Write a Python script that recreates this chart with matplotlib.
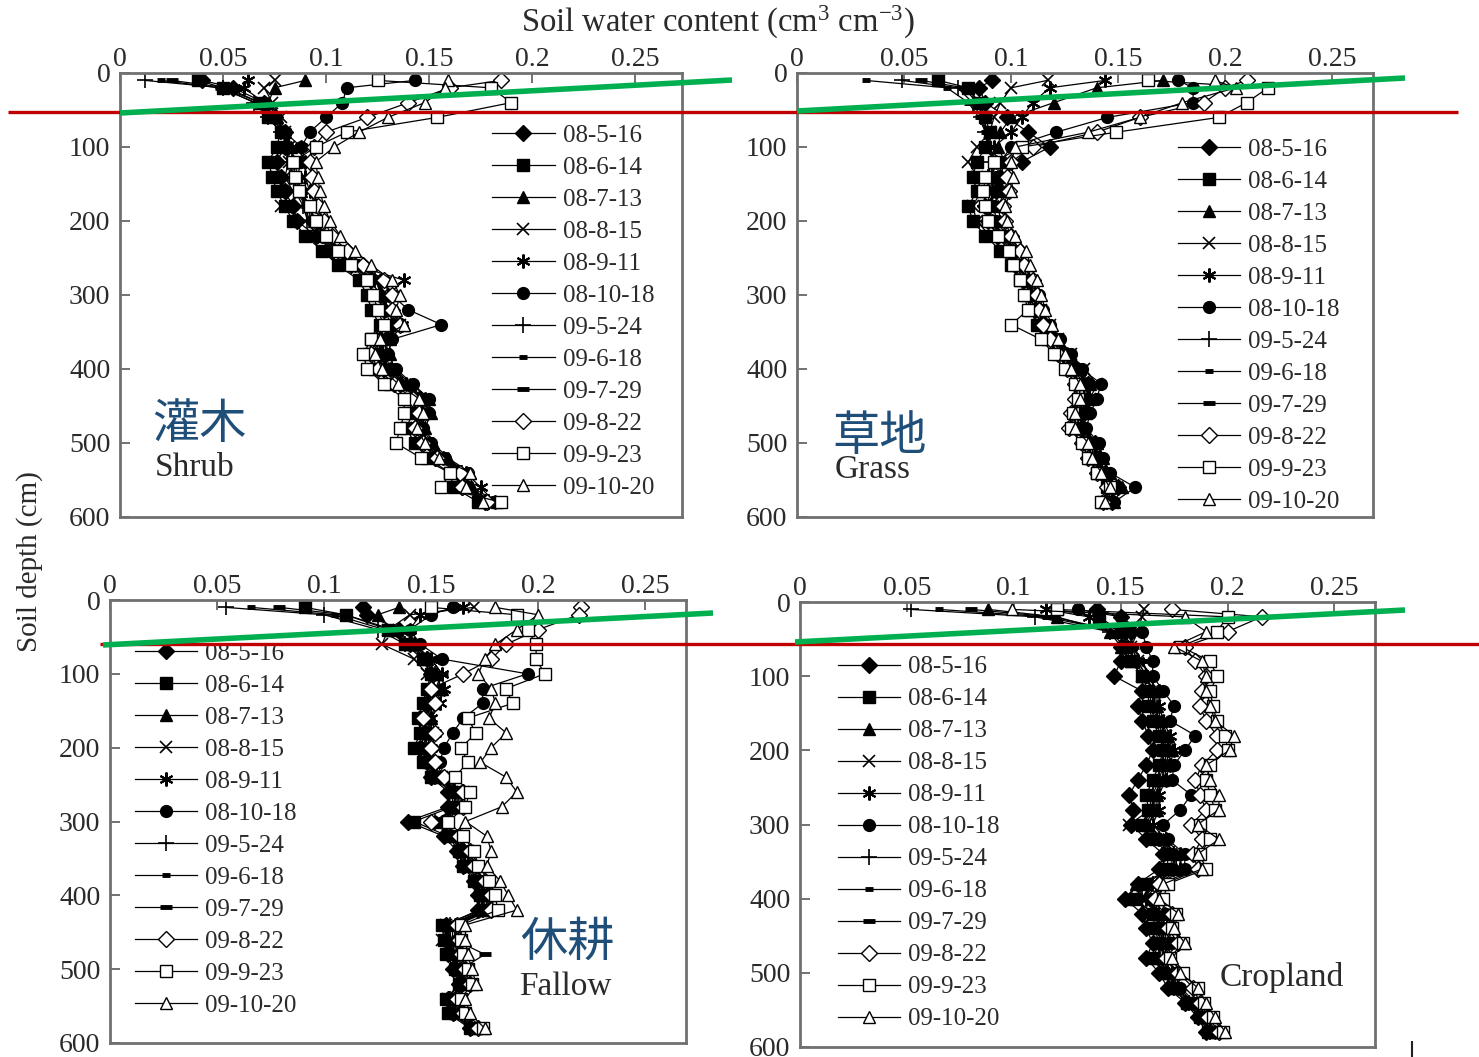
import matplotlib
matplotlib.use('Agg')
import matplotlib.pyplot as plt
from matplotlib.lines import Line2D

plt.rcParams['font.family'] = ['Liberation Serif', 'DejaVu Serif']
plt.rcParams['mathtext.fontset'] = 'custom'
plt.rcParams['mathtext.rm'] = 'Liberation Serif'
plt.rcParams['mathtext.it'] = 'Liberation Serif:italic'

W, H = 1479, 1057

# soil depth of each reading (cm)
depths = [10, 20, 40, 60, 80, 100, 120, 140, 160, 180, 200, 220, 240, 260, 280,
          300, 320, 340, 360, 380, 400, 420, 440, 460, 480, 500, 520, 540, 560, 580]
dates = ['08-5-16', '08-6-14', '08-7-13', '08-8-15', '08-9-11', '08-10-18',
         '09-5-24', '09-6-18', '09-7-29', '09-8-22', '09-9-23', '09-10-20']
xticks = [0, 0.05, 0.1, 0.15, 0.2, 0.25]
xtick_labels = ['0', '0.05', '0.1', '0.15', '0.2', '0.25']
yticks = [0, 100, 200, 300, 400, 500, 600]

# soil water content in 0.001 cm3/cm3, one row per date
shrub_swc = [
    [40, 55, 70, 75, 80, 80, 76, 78, 80, 84, 86, 95, 103, 112, 122, 126, 128, 132, 126, 126, 128, 136, 145, 146, 143, 147, 153, 164, 166, 177],
    [38, 50, 68, 72, 78, 76, 72, 74, 76, 80, 84, 90, 98, 106, 116, 120, 122, 126, 122, 121, 124, 131, 140, 142, 139, 143, 149, 160, 162, 174],
    [90, 75, 72, 76, 80, 83, 85, 86, 88, 92, 94, 99, 108, 116, 128, 131, 133, 138, 131, 131, 133, 141, 150, 151, 148, 152, 159, 170, 171, 183],
    [75, 70, 74, 78, 80, 82, 82, 80, 84, 78, 90, 96, 104, 112, 124, 127, 129, 136, 127, 127, 129, 137, 146, 147, 144, 148, 155, 166, 167, 179],
    [62, 60, 70, 75, 80, 88, 90, 90, 92, 95, 97, 98, 106, 114, 138, 130, 132, 137, 129, 129, 131, 139, 148, 149, 146, 150, 157, 168, 175, 182],
    [143, 110, 108, 100, 92, 88, 88, 86, 88, 92, 94, 100, 108, 115, 127, 132, 140, 156, 132, 130, 134, 142, 150, 150, 147, 151, 158, 169, 169, 181],
    [12, 50, 65, 72, 78, 82, 81, 83, 85, 89, 91, 96, 104, 112, 124, 127, 129, 134, 127, 127, 129, 137, 146, 147, 144, 148, 155, 166, 167, 179],
    [20, 48, 66, 73, 80, 84, 83, 84, 86, 90, 92, 97, 105, 113, 125, 128, 130, 135, 128, 128, 130, 138, 147, 148, 145, 149, 156, 167, 168, 180],
    [25, 52, 68, 74, 79, 83, 84, 85, 87, 91, 93, 98, 106, 115, 126, 126, 131, 134, 129, 127, 131, 139, 148, 149, 146, 150, 157, 168, 169, 181],
    [185, 160, 140, 120, 100, 94, 92, 93, 94, 96, 99, 103, 110, 118, 128, 132, 132, 136, 124, 122, 125, 133, 142, 145, 143, 147, 154, 165, 166, 178],
    [125, 180, 190, 154, 110, 95, 84, 85, 87, 92, 95, 100, 106, 112, 120, 123, 125, 128, 122, 118, 120, 128, 138, 138, 136, 134, 146, 160, 156, 185],
    [159, 158, 148, 130, 116, 104, 95, 96, 97, 99, 102, 107, 114, 122, 132, 136, 134, 138, 126, 124, 127, 135, 145, 147, 144, 148, 155, 170, 168, 176],
]
grass_swc = [
    [91, 85, 88, 98, 108, 118, 105, 95, 93, 88, 89, 94, 99, 102, 106, 109, 111, 114, 119, 124, 130, 136, 136, 134, 133, 139, 141, 144, 150, 147],
    [66, 80, 85, 88, 90, 88, 84, 82, 84, 80, 82, 88, 95, 100, 104, 107, 109, 112, 117, 122, 127, 132, 132, 130, 129, 135, 137, 140, 145, 143],
    [171, 140, 120, 100, 95, 94, 97, 95, 97, 94, 95, 99, 104, 107, 110, 112, 114, 117, 122, 127, 132, 137, 137, 135, 134, 140, 143, 146, 152, 148],
    [117, 100, 95, 92, 90, 84, 80, 84, 86, 82, 84, 90, 96, 101, 105, 110, 114, 118, 122, 128, 134, 140, 137, 134, 131, 137, 139, 142, 147, 145],
    [144, 118, 110, 105, 100, 92, 93, 91, 93, 90, 91, 96, 101, 104, 108, 111, 113, 116, 121, 126, 131, 136, 136, 134, 133, 139, 141, 144, 149, 147],
    [178, 185, 185, 145, 121, 100, 95, 93, 95, 92, 93, 98, 103, 106, 110, 113, 115, 118, 123, 128, 133, 142, 140, 137, 135, 141, 143, 146, 158, 148],
    [49, 75, 82, 86, 88, 90, 91, 89, 91, 88, 89, 94, 99, 102, 106, 109, 111, 114, 119, 124, 129, 134, 134, 132, 131, 137, 139, 142, 147, 145],
    [32, 70, 80, 85, 88, 89, 92, 90, 92, 89, 90, 95, 100, 103, 107, 110, 112, 115, 120, 125, 130, 135, 135, 133, 132, 138, 140, 143, 148, 146],
    [58, 78, 84, 87, 89, 90, 93, 91, 92, 90, 90, 96, 101, 103, 108, 110, 113, 115, 121, 125, 131, 135, 136, 133, 133, 138, 141, 143, 149, 146],
    [210, 200, 190, 160, 140, 110, 100, 98, 99, 96, 97, 100, 104, 106, 110, 112, 113, 115, 118, 122, 126, 130, 130, 128, 127, 133, 136, 140, 145, 143],
    [164, 220, 210, 197, 149, 105, 92, 88, 87, 88, 89, 94, 99, 101, 104, 106, 108, 100, 114, 120, 125, 130, 131, 129, 128, 133, 136, 140, 146, 142],
    [195, 205, 180, 160, 136, 102, 100, 101, 100, 97, 98, 102, 107, 109, 112, 114, 116, 119, 122, 125, 128, 132, 132, 130, 130, 136, 138, 142, 146, 144],
]
fallow_swc = [
    [118, 120, 135, 140, 148, 150, 150, 148, 145, 147, 145, 148, 150, 158, 158, 139, 156, 162, 165, 170, 172, 172, 157, 157, 158, 160, 163, 158, 160, 168],
    [91, 110, 130, 138, 146, 150, 148, 146, 144, 145, 142, 146, 150, 160, 160, 142, 158, 163, 165, 170, 173, 174, 155, 156, 157, 161, 163, 157, 158, 168],
    [135, 125, 132, 140, 148, 152, 155, 152, 150, 150, 148, 149, 152, 162, 163, 152, 161, 166, 168, 173, 178, 176, 158, 158, 160, 162, 164, 159, 161, 171],
    [170, 140, 130, 127, 142, 148, 153, 150, 149, 151, 149, 151, 155, 165, 163, 155, 162, 167, 168, 172, 176, 176, 157, 155, 160, 163, 166, 158, 160, 170],
    [165, 145, 140, 142, 150, 155, 156, 154, 150, 152, 150, 151, 154, 164, 165, 155, 162, 168, 170, 175, 177, 177, 161, 161, 162, 164, 167, 162, 164, 172],
    [160, 150, 140, 145, 155, 195, 174, 174, 165, 160, 156, 154, 156, 165, 164, 157, 162, 167, 169, 174, 176, 176, 162, 162, 163, 165, 167, 162, 164, 172],
    [54, 100, 125, 138, 148, 152, 151, 149, 147, 149, 147, 150, 152, 161, 161, 152, 159, 164, 166, 171, 174, 174, 159, 159, 160, 162, 164, 159, 161, 169],
    [66, 105, 128, 140, 150, 155, 152, 150, 148, 150, 148, 150, 153, 162, 162, 153, 160, 165, 167, 172, 175, 175, 160, 160, 161, 163, 165, 160, 162, 170],
    [79, 110, 132, 142, 150, 155, 153, 151, 149, 151, 149, 151, 154, 163, 163, 154, 161, 166, 168, 176, 176, 176, 161, 161, 175, 164, 166, 161, 163, 171],
    [220, 219, 200, 185, 178, 165, 150, 152, 146, 152, 150, 152, 156, 165, 165, 150, 163, 168, 170, 175, 178, 178, 162, 163, 164, 166, 168, 162, 165, 172],
    [150, 190, 195, 199, 199, 203, 185, 188, 167, 171, 164, 167, 161, 168, 166, 158, 165, 170, 172, 177, 180, 181, 164, 164, 165, 167, 169, 164, 166, 174],
    [180, 200, 190, 180, 175, 172, 178, 180, 177, 185, 178, 173, 185, 190, 183, 166, 176, 178, 176, 182, 186, 190, 166, 166, 167, 169, 171, 166, 168, 175],
]
crop_swc = [
    [139, 150, 155, 150, 150, 147, 160, 158, 160, 163, 165, 162, 158, 154, 156, 155, 162, 170, 168, 158, 152, 160, 162, 165, 162, 168, 172, 180, 186, 190],
    [120, 140, 150, 152, 155, 160, 163, 163, 165, 168, 170, 168, 165, 162, 163, 160, 166, 172, 172, 162, 157, 165, 166, 168, 165, 170, 174, 181, 187, 191],
    [88, 120, 145, 150, 155, 160, 167, 167, 169, 172, 174, 172, 170, 167, 167, 163, 170, 176, 176, 157, 154, 167, 168, 170, 167, 172, 176, 183, 189, 194],
    [161, 160, 158, 155, 158, 160, 166, 166, 168, 171, 173, 171, 169, 166, 164, 154, 169, 176, 176, 166, 160, 169, 169, 171, 169, 173, 176, 183, 189, 193],
    [115, 135, 150, 155, 158, 162, 168, 168, 170, 173, 175, 173, 171, 168, 168, 165, 171, 178, 178, 167, 162, 170, 170, 172, 170, 174, 177, 184, 190, 194],
    [130, 150, 160, 162, 165, 165, 170, 175, 173, 185, 180, 175, 174, 183, 178, 170, 172, 180, 180, 168, 164, 171, 172, 174, 172, 175, 178, 185, 190, 195],
    [52, 110, 145, 152, 158, 162, 165, 165, 167, 170, 172, 170, 168, 165, 165, 162, 168, 175, 175, 165, 160, 168, 168, 170, 168, 172, 175, 182, 188, 192],
    [65, 115, 148, 155, 160, 163, 164, 164, 166, 169, 171, 169, 167, 164, 164, 161, 167, 174, 174, 164, 160, 167, 167, 169, 167, 171, 174, 181, 187, 191],
    [80, 118, 150, 156, 160, 164, 166, 166, 168, 171, 173, 171, 169, 166, 166, 163, 169, 176, 176, 166, 161, 169, 169, 171, 169, 173, 176, 183, 189, 193],
    [174, 216, 200, 180, 185, 190, 188, 187, 190, 195, 195, 188, 185, 187, 190, 183, 188, 184, 186, 168, 166, 174, 172, 177, 171, 177, 184, 187, 191, 196],
    [120, 200, 195, 178, 192, 195, 192, 193, 195, 199, 200, 192, 190, 192, 194, 187, 192, 187, 190, 172, 170, 176, 174, 179, 173, 179, 186, 189, 193, 198],
    [99, 180, 190, 175, 188, 190, 190, 192, 194, 203, 201, 190, 192, 196, 196, 186, 196, 186, 188, 170, 168, 177, 175, 180, 174, 178, 186, 190, 194, 199],
]

# marker style for each date
styles = [
    dict(marker='D', mfc='k', ms=8),
    dict(marker='s', mfc='k', ms=8),
    dict(marker='^', mfc='k', ms=9),
    dict(marker='x', ms=9, mew=1.2),
    dict(marker=(6, 2, 0), ms=10, mew=1.5),
    dict(marker='o', mfc='k', ms=8.5),
    dict(marker='+', ms=11, mew=1.2),
    dict(marker='_', ms=6, mew=3.5),
    dict(marker='_', ms=9, mew=3.5),
    dict(marker='D', mfc='w', ms=8),
    dict(marker='s', mfc='w', ms=8),
    dict(marker='^', mfc='w', ms=9),
]


def px_rect(l, t, r, b):
    return [l / W, 1 - b / H, (r - l) / W, (b - t) / H]


fig = plt.figure(figsize=(W / 100, H / 100), dpi=100)

panels = [
    (shrub_swc, px_rect(120, 73, 682, 517), 0.2728, (0.662, 0.885), '灌木', (0.058, 0.207), 'Shrub', (0.062, 0.11)),
    (grass_swc, px_rect(797, 73, 1373, 517), 0.269, (0.661, 0.852), '草地', (0.062, 0.18), 'Grass', (0.066, 0.106)),
    (fallow_swc, px_rect(110, 600, 686, 1043), 0.269, (0.043, 0.904), '休耕', (0.712, 0.226), 'Fallow', (0.71, 0.126)),
    (crop_swc, px_rect(800, 602, 1375, 1047), 0.269, (0.066, 0.879), None, None, 'Cropland', (0.73, 0.157)),
]

for swc, rect, xmax, leg_xy, cn, cn_xy, en, en_xy in panels:
    ax = fig.add_axes(rect)
    handles = []
    for vals, st in zip(swc, styles):
        line, = ax.plot([v / 1000 for v in vals], depths, color='k', lw=0.9,
                        mec='k', **st)
        handles.append(line)
    ax.set_xlim(0, xmax)
    ax.set_ylim(600, 0)
    ax.set_xticks(xticks)
    ax.set_xticklabels(xtick_labels)
    ax.set_yticks(yticks)
    ax.xaxis.set_ticks_position('top')
    ax.tick_params(axis='both', direction='in', length=7, width=1.3,
                   color='#666666', labelsize=20, labelcolor='#2a2a2a')
    ax.tick_params(axis='x', pad=1)
    ax.tick_params(axis='y', pad=7)
    for sp in ax.spines.values():
        sp.set_color('#707070')
        sp.set_linewidth(2)
    ax.legend(handles, dates, loc='upper left', bbox_to_anchor=leg_xy,
              frameon=False, borderpad=0, borderaxespad=0, fontsize=18,
              handlelength=2.5, handletextpad=0.32, labelspacing=0.38,
              labelcolor='#2a2a2a')
    if cn:
        ax.text(cn_xy[0], cn_xy[1], cn, transform=ax.transAxes, fontsize=34,
                family=['Noto Sans CJK SC'], color='#1f4e79', va='center', ha='left')
    ax.text(en_xy[0], en_xy[1], en, transform=ax.transAxes, fontsize=24,
            color='#2a2a2a', va='center', ha='left')

fig.text(718 / W, 1 - 22 / H, 'Soil water content (cm$^3$ cm$^{-3}$)',
         fontsize=23.5, color='#2a2a2a', ha='center', va='center')
fig.text(30 / W, 1 - 562 / H, 'Soil depth (cm)', fontsize=21, color='#2a2a2a',
         rotation=90, ha='center', va='center')


def fig_line(x0, y0, x1, y1, color, lw):
    fig.add_artist(Line2D([x0 / W, x1 / W], [1 - y0 / H, 1 - y1 / H],
                          transform=fig.transFigure, color=color, lw=lw,
                          solid_capstyle='butt', zorder=10))


# red reference lines, then green overlays
fig_line(8, 112, 1458, 112, '#c00000', 2.4)
fig_line(100, 644, 1479, 644, '#c00000', 2.4)
fig_line(120, 113, 732, 80, '#00b050', 4)
fig_line(797, 111, 1405, 78, '#00b050', 4)
fig_line(103, 645, 713, 613, '#00b050', 4)
fig_line(795, 642, 1405, 610, '#00b050', 4)
fig_line(1412, 1041, 1412, 1057, '#222222', 1.5)

fig.savefig('out.png', dpi=100)
